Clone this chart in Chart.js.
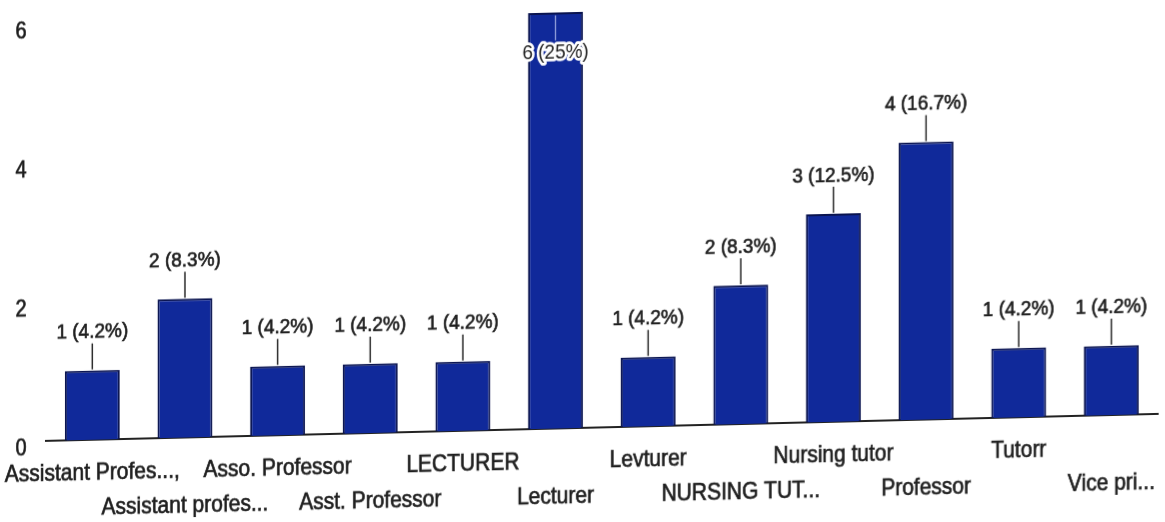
<!DOCTYPE html>
<html><head><meta charset="utf-8">
<script src="https://cdn.jsdelivr.net/npm/chart.js@4"></script>
<style>
html,body{margin:0;padding:0;background:#fff;overflow:hidden}
#wrap{width:1165px;height:522px;position:relative;transform:skewY(-1.39deg);transform-origin:0 0}
</style>
</head><body><div id="wrap"><canvas id="c"></canvas></div>
<script>
const categories = ["Assistant Profes...,", "Assistant profes...", "Asso. Professor", "Asst. Professor", "LECTURER", "Lecturer", "Levturer", "NURSING TUT...", "Nursing tutor", "Professor", "Tutorr", "Vice pri..."];
const counts = [1, 2, 1, 1, 1, 6, 1, 2, 3, 4, 1, 1];
const percentLabels = ["4.2%", "8.3%", "4.2%", "4.2%", "4.2%", "25%", "4.2%", "8.3%", "12.5%", "16.7%", "4.2%", "4.2%"];
const yTicks = [0, 2, 4, 6];

const FONT = "'Liberation Sans', Arial, sans-serif";
const TEXT = '#1e1e1e';

function stretchedText(ctx, txt, x, y, size, sy) {
  ctx.save();
  ctx.translate(x, y);
  ctx.scale(1, sy);
  ctx.font = size + 'px ' + FONT;
  ctx.textAlign = 'center';
  ctx.textBaseline = 'middle';
  ctx.lineWidth = 0.6;
  ctx.strokeStyle = TEXT;
  ctx.fillStyle = TEXT;
  ctx.strokeText(txt, 0, 0);
  ctx.fillText(txt, 0, 0);
  ctx.restore();
}

const labelsPlugin = {
  id: 'labels',
  afterDraw(chart) {
    const ctx = chart.ctx;
    const xs = chart.scales.x, ys = chart.scales.y;
    const area = chart.chartArea;
    // y tick labels
    yTicks.forEach(v => stretchedText(ctx, String(v), 21, ys.getPixelForValue(v) + 7, 20, 1.18));
    // x tick labels, two staggered rows
    categories.forEach((c, i) => {
      const x = xs.getPixelForTick(i);
      const y = area.bottom + (i % 2 === 0 ? 33 : 68);
      stretchedText(ctx, c, x, y, 21, 1.15);
    });
    // value labels with leader lines
    const meta = chart.getDatasetMeta(0);
    meta.data.forEach((el, i) => {
      const txt = counts[i] + ' (' + percentLabels[i] + ')';
      const x = el.x, top = el.y;
      ctx.save();
      if (top - 48 < area.top) {
        ctx.strokeStyle = '#b8c2ee';
        ctx.lineWidth = 1;
        ctx.beginPath(); ctx.moveTo(x, top + 3); ctx.lineTo(x, top + 28); ctx.stroke();
        ctx.translate(x, top + 40);
        ctx.scale(1, 1.1);
        ctx.font = '19px ' + FONT;
        ctx.textAlign = 'center'; ctx.textBaseline = 'middle';
        ctx.lineJoin = 'round';
        ctx.lineWidth = 5; ctx.strokeStyle = '#ffffff';
        ctx.strokeText(txt, 0, 0);
        ctx.fillStyle = TEXT;
        ctx.fillText(txt, 0, 0);
        ctx.restore();
      } else {
        ctx.strokeStyle = '#2a2a2a';
        ctx.lineWidth = 1.5;
        ctx.beginPath(); ctx.moveTo(x, top - 1); ctx.lineTo(x, top - 27); ctx.stroke();
        ctx.restore();
        stretchedText(ctx, txt, x, top - 38, 19, 1.1);
      }
    });
  }
};

new Chart(document.getElementById('c'), {
  type: 'bar',
  data: {
    labels: categories,
    datasets: [{
      data: counts,
      backgroundColor: '#10299a',
      borderColor: '#0a1450',
      borderWidth: 2,
      categoryPercentage: 1,
      barPercentage: 0.593
    }]
  },
  options: {
    responsive: true,
    maintainAspectRatio: false,
    animation: false,
    layout: { padding: { top: 3, right: 7, left: 0, bottom: 0 } },
    plugins: { legend: { display: false }, tooltip: { enabled: false } },
    scales: {
      x: {
        grid: { display: false, drawTicks: false },
        border: { display: true, color: '#222', width: 2 },
        ticks: { display: false },
        afterFit(s) { s.height = 80; }
      },
      y: {
        min: 0, max: 6.33,
        grid: { display: false, drawTicks: false },
        border: { display: false },
        ticks: { display: false },
        afterFit(s) { s.width = 46; }
      }
    }
  },
  plugins: [labelsPlugin]
});
</script>
</body></html>
